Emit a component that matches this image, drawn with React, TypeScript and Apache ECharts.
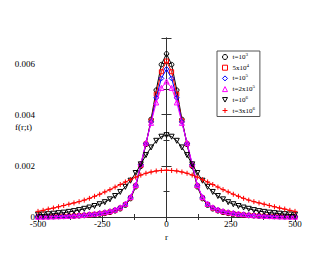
import React, { useEffect, useRef } from "react";
import * as echarts from "echarts";

const rValues = [
  -500, -480, -460, -440, -420, -400, -380, -360, -340, -320, -300, -280, -260, -240, -220, -200, -180, -160, -140, -120, -100, -80, -60, -40, -20,
  0,
  20, 40, 60, 80, 100, 120, 140, 160, 180, 200, 220, 240, 260, 280, 300, 320, 340, 360, 380, 400, 420, 440, 460, 480, 500,
];

const t1e3 = [
  0.000007, 0.000009, 0.000012, 0.000015, 0.000019, 0.000024, 0.00003, 0.000037, 0.000046, 0.000058, 0.000072, 0.00009, 0.00011, 0.00014, 0.00018, 0.00024, 0.00032, 0.00046, 0.00072, 0.00118, 0.00198, 0.00284, 0.00382, 0.00496, 0.00596,
  0.00638,
  0.00596, 0.00496, 0.00382, 0.00284, 0.00198, 0.00118, 0.00072, 0.00046, 0.00032, 0.00024, 0.00018, 0.00014, 0.00011, 0.00009, 0.000072, 0.000058, 0.000046, 0.000037, 0.00003, 0.000024, 0.000019, 0.000015, 0.000012, 0.000009, 0.000007,
];

const t5e4 = [
  0.000009, 0.000011, 0.000014, 0.000018, 0.000022, 0.000028, 0.000035, 0.000044, 0.000055, 0.000068, 0.000085, 0.000105, 0.00013, 0.00016, 0.0002, 0.00026, 0.00035, 0.00049, 0.00075, 0.00122, 0.00202, 0.00286, 0.00376, 0.0048, 0.00568,
  0.0061,
  0.00568, 0.0048, 0.00376, 0.00286, 0.00202, 0.00122, 0.00075, 0.00049, 0.00035, 0.00026, 0.0002, 0.00016, 0.00013, 0.000105, 0.000085, 0.000068, 0.000055, 0.000044, 0.000035, 0.000028, 0.000022, 0.000018, 0.000014, 0.000011, 0.000009,
];

const t1e5 = [
  0.00001, 0.000013, 0.000017, 0.000021, 0.000027, 0.000033, 0.000041, 0.000051, 0.000064, 0.00008, 0.0001, 0.00012, 0.00015, 0.00018, 0.00022, 0.00028, 0.00037, 0.00051, 0.00077, 0.00124, 0.00205, 0.00288, 0.00372, 0.00466, 0.00542,
  0.00578,
  0.00542, 0.00466, 0.00372, 0.00288, 0.00205, 0.00124, 0.00077, 0.00051, 0.00037, 0.00028, 0.00022, 0.00018, 0.00015, 0.00012, 0.0001, 0.00008, 0.000064, 0.000051, 0.000041, 0.000033, 0.000027, 0.000021, 0.000017, 0.000013, 0.00001,
];

const t2e5 = [
  0.000011, 0.000014, 0.000018, 0.000023, 0.000029, 0.000036, 0.000045, 0.000055, 0.000068, 0.000085, 0.00011, 0.00013, 0.00016, 0.00019, 0.00023, 0.00029, 0.00038, 0.00052, 0.00078, 0.00125, 0.00208, 0.0029, 0.00368, 0.00448, 0.00505,
  0.0053,
  0.00505, 0.00448, 0.00368, 0.0029, 0.00208, 0.00125, 0.00078, 0.00052, 0.00038, 0.00029, 0.00023, 0.00019, 0.00016, 0.00013, 0.00011, 0.000085, 0.000068, 0.000055, 0.000045, 0.000036, 0.000029, 0.000023, 0.000018, 0.000014, 0.000011,
];

const t1e6 = [
  0.00009, 0.0001, 0.00011, 0.00013, 0.00015, 0.00017, 0.0002, 0.00023, 0.00027, 0.00032, 0.00037, 0.00043, 0.0005, 0.00058, 0.00069, 0.00082, 0.00098, 0.00118, 0.00142, 0.00172, 0.00206, 0.00242, 0.00272, 0.00298, 0.00314,
  0.0032,
  0.00314, 0.00298, 0.00272, 0.00242, 0.00206, 0.00172, 0.00142, 0.00118, 0.00098, 0.00082, 0.00069, 0.00058, 0.0005, 0.00043, 0.00037, 0.00032, 0.00027, 0.00023, 0.0002, 0.00017, 0.00015, 0.00013, 0.00011, 0.0001, 0.00009,
];

const t3e6 = [
  0.00022, 0.00026, 0.00031, 0.00035, 0.0004, 0.00045, 0.0005, 0.00055, 0.0006, 0.00066, 0.00073, 0.00081, 0.00089, 0.00098, 0.00107, 0.00117, 0.00127, 0.00137, 0.00146, 0.00156, 0.00164, 0.00171, 0.00176, 0.0018, 0.00182,
  0.00183,
  0.00182, 0.0018, 0.00176, 0.00171, 0.00164, 0.00156, 0.00146, 0.00137, 0.00127, 0.00117, 0.00107, 0.00098, 0.00089, 0.00081, 0.00073, 0.00066, 0.0006, 0.00055, 0.0005, 0.00045, 0.0004, 0.00035, 0.00031, 0.00026, 0.00022,
];

const seriesNames = ["t=10^3", "5x10^4", "t=10^5", "t=2x10^5", "t=10^6", "t=3x10^6"];
const seriesValues = [t1e3, t5e4, t1e5, t2e5, t1e6, t3e6];
const seriesColors = ["#000000", "#ff0000", "#0000ff", "#ff00ff", "#000000", "#ff0000"];
const seriesSymbols = [
  "circle",
  "rect",
  "diamond",
  "triangle",
  "path://M0,0L10,0L5,9Z",
  "path://M5,0L5,10M0,5L10,5",
];
const seriesSymbolSizes = [4.5, 4, 5, 5, 5, 5];

const xTicks = [-500, -250, 0, 250, 500];
const yTicks = [0, 0.002, 0.004, 0.006];
const xTitle = "r";
const yTitle = "f(r;t)";

const FONT = "Liberation Serif";

export default function App() {
  const ref = useRef<HTMLDivElement>(null);
  useEffect(() => {
    if (!ref.current) return;
    const chart = echarts.init(ref.current, undefined, { renderer: "svg" });
    const axisLineStyle = { color: "#333", width: 1 };
    const series = seriesNames.map((name, k) => ({
      name,
      type: "line",
      xAxisIndex: 0,
      yAxisIndex: 0,
      data: rValues.map((r, i) => [r, seriesValues[k][i]]),
      symbol: seriesSymbols[k],
      symbolSize: seriesSymbolSizes[k],
      showAllSymbol: true,
      lineStyle: { color: seriesColors[k], width: 1 },
      itemStyle: { color: "transparent", borderColor: seriesColors[k], borderWidth: 1 },
      emphasis: { disabled: true },
      z: 2 + k,
    }));
    chart.setOption({
      animation: false,
      backgroundColor: "#ffffff",
      grid: { left: 38, right: 35, top: 38, bottom: 38, outerBoundsMode: "none", containLabel: false },
      graphic: [
        {
          type: "text",
          x: 32,
          y: 127,
          style: {
            text: yTitle,
            fontFamily: FONT,
            fontSize: 9,
            fill: "#000",
            align: "right",
            verticalAlign: "middle",
          },
        },
      ],
      legend: {
        orient: "vertical",
        left: 217,
        top: 51,
        padding: [1, 5, 1, 5],
        itemGap: 0.7,
        itemWidth: 5,
        itemHeight: 5,
        borderColor: "#555",
        borderWidth: 1,
        backgroundColor: "#ffffff",
        selectedMode: false,
        data: seriesNames.map((name, k) => ({ name, icon: seriesSymbols[k] })),
        itemStyle: { borderWidth: 1 },
        formatter: (name: string) => name.replace(/\^(\d)/, "{sup|$1}"),
        textStyle: {
          fontFamily: FONT,
          fontSize: 7,
          lineHeight: 10,
          color: "#000",
          rich: { sup: { fontFamily: FONT, fontSize: 5, lineHeight: 10, verticalAlign: "top", color: "#000" } },
        },
      },
      xAxis: [
        {
          type: "value",
          min: xTicks[0],
          max: xTicks[xTicks.length - 1],
          interval: 250,
          position: "bottom",
          name: xTitle,
          nameLocation: "middle",
          nameGap: 9,
          nameTextStyle: { fontFamily: FONT, fontSize: 9, color: "#000" },
          axisLine: { lineStyle: axisLineStyle },
          axisTick: { inside: true, length: 5, lineStyle: axisLineStyle },
          minorTick: { show: true, splitNumber: 2, length: 3, lineStyle: axisLineStyle },
          splitLine: { show: false },
          axisLabel: { fontFamily: FONT, fontSize: 9, color: "#000", margin: 2 },
        },
        {
          type: "value",
          min: xTicks[0],
          max: xTicks[xTicks.length - 1],
          interval: 250,
          position: "top",
          axisLine: { lineStyle: axisLineStyle },
          axisTick: { inside: true, length: 5, lineStyle: axisLineStyle },
          minorTick: { show: true, splitNumber: 2, length: 3, lineStyle: axisLineStyle },
          splitLine: { show: false },
          axisLabel: { show: false },
        },
      ],
      yAxis: [
        {
          type: "value",
          min: yTicks[0],
          max: 0.007,
          interval: 0.002,
          position: "left",
          axisLine: { lineStyle: axisLineStyle },
          axisTick: { inside: true, length: 5, lineStyle: axisLineStyle },
          minorTick: { show: true, splitNumber: 2, length: 3, lineStyle: axisLineStyle },
          splitLine: { show: false },
          axisLabel: {
            fontFamily: FONT,
            fontSize: 9,
            color: "#000",
            margin: 3,
            showMaxLabel: false,
            formatter: (v: number) => (v === 0 ? "0" : v.toFixed(3)),
          },
        },
        {
          type: "value",
          min: yTicks[0],
          max: 0.007,
          interval: 0.002,
          position: "right",
          axisLine: { lineStyle: axisLineStyle },
          axisTick: { inside: true, length: 5, lineStyle: axisLineStyle },
          minorTick: { show: true, splitNumber: 2, length: 3, lineStyle: axisLineStyle },
          splitLine: { show: false },
          axisLabel: { show: false },
        },
      ],
      series,
    });
    return () => chart.dispose();
  }, []);
  return (
    <div
      ref={ref}
      style={{ position: "fixed", left: 0, top: 0, width: 330, height: 255, background: "#fff" }}
    />
  );
}
